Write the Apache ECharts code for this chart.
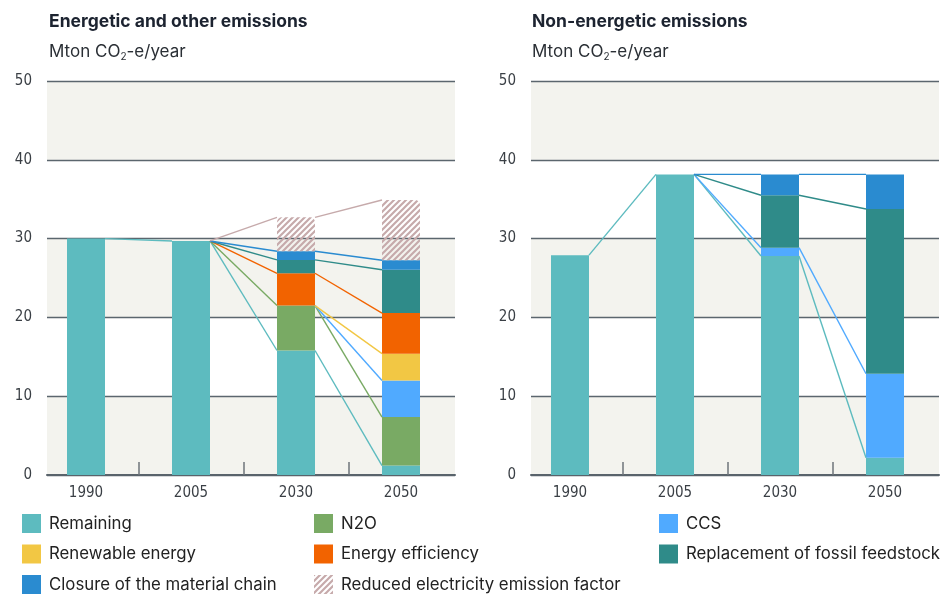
<!DOCTYPE html>
<html>
<head>
<meta charset="utf-8">
<script src="https://cdn.jsdelivr.net/npm/echarts@6/dist/echarts.min.js"></script>
<style>
  html, body { margin: 0; padding: 0; background: #fff; }
  #main { width: 943px; height: 595px; }
</style>
</head>
<body>
<div id="main"></div>
<script>
// categories
const years = ["1990", "2005", "2030", "2050"];

// energetic and other emissions (Mton CO2-e/year), stacked bottom -> top
const leftRemaining = [30.0, 29.7, 15.8, 1.2];
const leftN2O = [0, 0, 5.7, 6.15];
const leftCCS = [0, 0, 0, 4.65];
const leftRenewable = [0, 0, 0, 3.4];
const leftEfficiency = [0, 0, 4.1, 5.15];
const leftFeedstock = [0, 0, 1.7, 5.5];
const leftClosure = [0, 0, 1.1, 1.2];
const leftElectricity = [0, 0, 4.3, 7.65];

// non-energetic emissions
const rightRemaining = [27.9, 38.15, 27.8, 2.2];
const rightCCS = [0, 0, 1.05, 10.65];
const rightFeedstock = [0, 0, 6.65, 20.9];
const rightClosure = [0, 0, 2.65, 4.4];

const COL = {
  "Remaining": "#5dbbbf",
  "N2O": "#79aa64",
  "CCS": "#50aaff",
  "Renewable energy": "#f2c744",
  "Energy efficiency": "#f26300",
  "Replacement of fossil feedstock": "#2f8b89",
  "Closure of the material chain": "#2a8bd0",
  "Reduced electricity emission factor": "#c6aaab",
};

// diagonal hatch for the electricity emission factor
function hatch() {
  const c = document.createElement("canvas");
  const s = 6;
  c.width = s; c.height = s;
  const g = c.getContext("2d");
  g.strokeStyle = COL["Reduced electricity emission factor"];
  g.lineWidth = 2.2;
  g.beginPath();
  g.moveTo(0, s); g.lineTo(s, 0);
  g.moveTo(s - 1, s + 1); g.lineTo(s + 1, s - 1);
  g.moveTo(-1, 1); g.lineTo(1, -1);
  g.stroke();
  return { image: c, repeat: "repeat" };
}
const hatchFill = hatch();

const BAR_W = 38;
const FONT = "Inter, Roboto, sans-serif";
const NARROW = "'Liberation Sans Narrow', 'DejaVu Sans Condensed', sans-serif";

const leftStack = [
  ["Remaining", leftRemaining],
  ["N2O", leftN2O],
  ["CCS", leftCCS],
  ["Renewable energy", leftRenewable],
  ["Energy efficiency", leftEfficiency],
  ["Replacement of fossil feedstock", leftFeedstock],
  ["Closure of the material chain", leftClosure],
  ["Reduced electricity emission factor", leftElectricity],
];
const rightStack = [
  ["Remaining", rightRemaining],
  ["CCS", rightCCS],
  ["Replacement of fossil feedstock", rightFeedstock],
  ["Closure of the material chain", rightClosure],
];

// grid 0/2 hold the stacked bars (category axis), grid 1/3 draw the visible axes
function barSeries(stack, gi) {
  return stack.map(([name, vals], k) => ({
    name: name,
    type: "bar",
    stack: "s" + gi,
    xAxisIndex: gi,
    yAxisIndex: gi,
    barWidth: BAR_W,
    itemStyle: {
      color: name === "Reduced electricity emission factor" ? hatchFill : COL[name],
      borderRadius: k === stack.length - 1 && stack.length > 4 ? [5, 5, 0, 0] : 0,
    },
    emphasis: { disabled: true },
    data: vals,
  }));
}

// connector lines from the top of each stacked segment to the next bar
function lineSeries(stack, gi) {
  const out = [];
  let base = years.map(() => 0);
  stack.forEach(([name, vals], k) => {
    const top = vals.map((v, i) => base[i] + v);
    const segs = [];
    for (let i = 0; i < years.length - 1; i++) {
      if (k === 0 || vals[i] !== 0 || vals[i + 1] !== 0) {
        segs.push([i, top[i], i + 1, top[i + 1]]);
      }
    }
    base = top;
    out.push({
      name: name + " line",
      type: "custom",
      xAxisIndex: gi,
      yAxisIndex: gi,
      z: 5,
      silent: true,
      encode: { x: [0, 2], y: [1, 3] },
      renderItem: function (params, api) {
        const a = api.coord([api.value(0), api.value(1)]);
        const b = api.coord([api.value(2), api.value(3)]);
        return {
          type: "line",
          shape: { x1: a[0] + BAR_W / 2, y1: a[1], x2: b[0] - BAR_W / 2, y2: b[1] },
          style: { stroke: COL[name], lineWidth: 1.4 },
        };
      },
      data: segs,
    });
  });
  return out;
}

function hiddenX(gi) {
  return { type: "category", gridIndex: gi, data: years, show: false };
}
function hiddenY(gi) {
  return { type: "value", gridIndex: gi, min: 0, max: 50, show: false, splitLine: { show: false } };
}

function shownX(gi) {
  return {
    type: "value",
    gridIndex: gi,
    min: -39 / 105,
    max: -39 / 105 + 408 / 105,
    splitLine: { show: false },
    axisLine: { show: true, onZero: false, lineStyle: { color: "#59636b", width: 2 } },
    axisTick: {
      show: true,
      inside: true,
      length: 13,
      customValues: [0.5, 1.5, 2.5],
      lineStyle: { color: "#6f767b", width: 1.5 },
    },
    axisLabel: {
      customValues: [0, 1, 2, 3],
      formatter: (v) => years[Math.round(v)],
      margin: 11,
      fontFamily: NARROW,
      fontSize: 15,
      color: "#3a3f45",
    },
  };
}

function shownY(gi) {
  return {
    type: "value",
    gridIndex: gi,
    min: 0,
    max: 50,
    interval: 10,
    axisLine: { show: false },
    axisTick: { show: false },
    splitLine: { lineStyle: { color: "#5b666e", width: 1.3 } },
    splitArea: { show: true, areaStyle: { color: ["#f3f3ee", "#ffffff"] } },
    axisLabel: {
      margin: 15,
      fontFamily: NARROW,
      fontSize: 15,
      color: "#3a3f45",
    },
  };
}

function legend(items, left) {
  return {
    data: items,
    left: left,
    top: 514,
    padding: 0,
    orient: "vertical",
    itemWidth: 19,
    itemHeight: 19,
    itemGap: 11.5,
    icon: "rect",
    selectedMode: false,
    textStyle: { fontFamily: FONT, fontSize: 16.8, color: "#222", padding: [0, 0, 0, 3] },
  };
}

const subRich = {
  a: { fontFamily: FONT, fontSize: 17, color: "#2a2f35" },
  s: { fontFamily: FONT, fontSize: 10, color: "#2a2f35", padding: [11, 0, 0, 0] },
};

var myChart = echarts.init(document.getElementById("main"));
const option = {
  animation: false,
  title: [
    {
      text: "Energetic and other emissions",
      subtext: "{a|Mton CO}{s|2}{a|-e/year}",
      left: 44,
      top: 8,
      itemGap: 10,
      textStyle: { fontFamily: FONT, fontSize: 17.5, fontWeight: "bold", color: "#1c2330" },
      subtextStyle: { rich: subRich },
    },
    {
      text: "Non-energetic emissions",
      subtext: "{a|Mton CO}{s|2}{a|-e/year}",
      left: 527,
      top: 8,
      itemGap: 10,
      textStyle: { fontFamily: FONT, fontSize: 17.5, fontWeight: "bold", color: "#1c2330" },
      subtextStyle: { rich: subRich },
    },
  ],
  legend: [
    legend(["Remaining", "Renewable energy", "Closure of the material chain"], 22),
    legend(["N2O", "Energy efficiency", "Reduced electricity emission factor"], 314),
    legend(["CCS", "Replacement of fossil feedstock"], 659),
  ],
  grid: [
    { left: 33.5, top: 81, width: 420, height: 394 },
    { left: 47, top: 81, width: 408, height: 394 },
    { left: 517.5, top: 81, width: 420, height: 394 },
    { left: 531, top: 81, width: 408, height: 394 },
  ],
  xAxis: [hiddenX(0), shownX(1), hiddenX(2), shownX(3)],
  yAxis: [hiddenY(0), shownY(1), hiddenY(2), shownY(3)],
  series: [
    ...barSeries(leftStack, 0),
    ...barSeries(rightStack, 2),
    ...lineSeries(leftStack, 1),
    ...lineSeries(rightStack, 3),
  ],
};
option && myChart.setOption(option);
</script>
</body>
</html>
